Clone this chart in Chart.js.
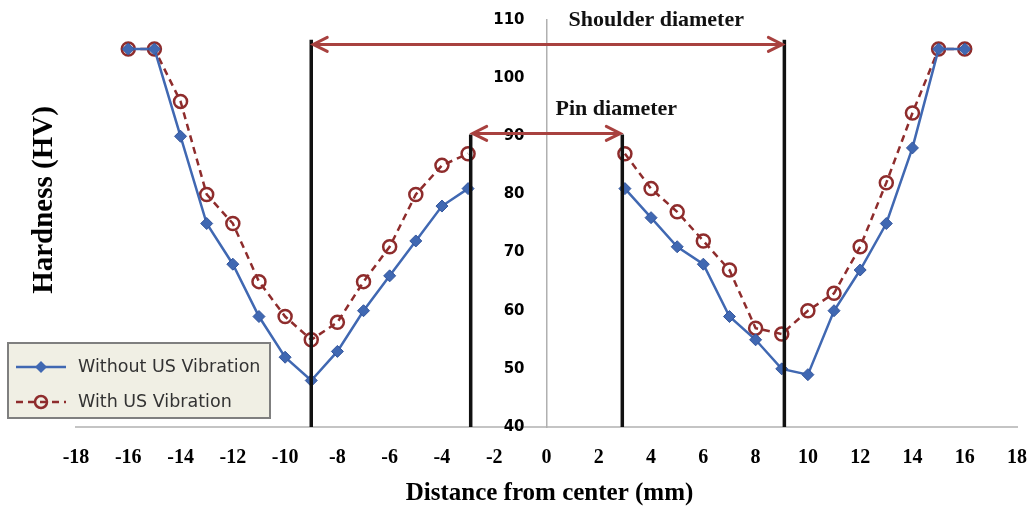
<!DOCTYPE html>
<html>
<head>
<meta charset="utf-8">
<script src="https://cdn.jsdelivr.net/npm/chart.js@4.4.1/dist/chart.umd.min.js"></script>
<style>
  html, body { margin: 0; padding: 0; background: #fff; }
</style>
</head>
<body>
<canvas id="hardnessChart" width="1035" height="513"></canvas>
<script>
// hardness profile across the weld (0 = gap under the pin, no reading)
const distance  = [-16, -15, -14, -13, -12, -11, -10, -9, -8, -7, -6, -5, -4, -3, 0, 3, 4, 5, 6, 7, 8, 9, 10, 11, 12, 13, 14, 15, 16];
const withoutUS = [105, 105, 90, 75, 68, 59, 52, 48, 53, 60, 66, 72, 78, 81, null, 81, 76, 71, 68, 59, 55, 50, 49, 60, 67, 75, 88, 105, 105];
const withUS    = [105, 105, 96, 80, 75, 65, 59, 55, 58, 65, 71, 80, 85, 87, null, 87, 81, 77, 72, 67, 57, 56, 60, 63, 71, 82, 94, 105, 105];

const xTickValues = [-18, -16, -14, -12, -10, -8, -6, -4, -2, 0, 2, 4, 6, 8, 10, 12, 14, 16, 18];
const yTickValues = [40, 50, 60, 70, 80, 90, 100, 110];

// tool zones
const shoulderEdges = [-9, 9.1];
const shoulderTop = 106.6;
const shoulderArrow = 105.8;
const pinEdges = [-2.9, 2.9];
const pinTop = 90.3;
const pinArrow = 90.5;

const BLUE = '#4068b2';
const RED = '#8e2c2c';
const ARROW = '#a8413f';

function points(ys) {
    return distance.map((x, i) => ({ x: x, y: ys[i] }));
}

function edgeLines(edges, top) {
    return edges.map(e => ({
        data: [{ x: e, y: yTickValues[0] }, { x: e, y: top }],
        borderColor: '#111',
        borderWidth: 3.5,
        pointRadius: 0,
        order: -1
    }));
}

const annotations = {
    id: 'annotations',
    afterDatasetsDraw(chart) {
        const ctx = chart.ctx;
        const xs = chart.scales.x, ys = chart.scales.y;
        const area = chart.chartArea;

        function arrow(edges, level) {
            const x1 = xs.getPixelForValue(edges[0]);
            const x2 = xs.getPixelForValue(edges[1]);
            const y = ys.getPixelForValue(level);
            ctx.save();
            ctx.strokeStyle = ARROW;
            ctx.lineWidth = 3;
            ctx.lineCap = 'round';
            ctx.beginPath();
            ctx.moveTo(x1 + 2, y);
            ctx.lineTo(x2 - 2, y);
            ctx.moveTo(x1 + 16, y - 7);
            ctx.lineTo(x1 + 2, y);
            ctx.lineTo(x1 + 16, y + 7);
            ctx.moveTo(x2 - 16, y - 7);
            ctx.lineTo(x2 - 2, y);
            ctx.lineTo(x2 - 16, y + 7);
            ctx.stroke();
            ctx.restore();
        }
        arrow(shoulderEdges, shoulderArrow);
        arrow(pinEdges, pinArrow);

        ctx.save();
        ctx.fillStyle = '#111';
        ctx.font = 'bold 22px "Liberation Serif"';
        ctx.textAlign = 'center';
        ctx.textBaseline = 'middle';
        ctx.fillText('Shoulder diameter', xs.getPixelForValue(4.2), ys.getPixelForValue(110));
        ctx.fillText('Pin diameter', xs.getPixelForValue(2.67), ys.getPixelForValue(94.6));

        // axis titles
        ctx.fillStyle = '#000';
        ctx.font = 'bold 25px "Liberation Serif"';
        ctx.fillText('Distance from center (mm)', (area.left + area.right) / 2 + 3, chart.height - 19);

        // y axis title sits at the far left, not next to the centred axis
        ctx.translate(45, 200);
        ctx.rotate(-Math.PI / 2);
        ctx.font = 'bold 29px "Liberation Serif"';
        ctx.fillText('Hardness (HV)', 0, 0);
        ctx.restore();
    },
    afterDraw(chart) {
        const ctx = chart.ctx;
        ctx.save();
        ctx.fillStyle = '#f0efe4';
        ctx.strokeStyle = '#7f7f7f';
        ctx.lineWidth = 2;
        ctx.fillRect(8, 343, 262, 75);
        ctx.strokeRect(8, 343, 262, 75);

        // entry 1
        ctx.strokeStyle = BLUE;
        ctx.lineWidth = 2.5;
        ctx.beginPath();
        ctx.moveTo(16, 367);
        ctx.lineTo(66, 367);
        ctx.stroke();
        ctx.fillStyle = BLUE;
        ctx.beginPath();
        ctx.moveTo(41, 361); ctx.lineTo(47, 367); ctx.lineTo(41, 373); ctx.lineTo(35, 367);
        ctx.closePath();
        ctx.fill();

        // entry 2
        ctx.strokeStyle = RED;
        ctx.setLineDash([7, 5]);
        ctx.beginPath();
        ctx.moveTo(16, 402);
        ctx.lineTo(66, 402);
        ctx.stroke();
        ctx.setLineDash([]);
        ctx.beginPath();
        ctx.arc(41, 402, 6, 0, Math.PI * 2);
        ctx.stroke();

        ctx.fillStyle = '#333';
        ctx.font = '17.5px "DejaVu Sans"';
        ctx.textBaseline = 'middle';
        ctx.fillText('Without US Vibration', 78, 367);
        ctx.fillText('With US Vibration', 78, 402);
        ctx.restore();
    }
};

const ctx = document.getElementById('hardnessChart').getContext('2d');
new Chart(ctx, {
    type: 'line',
    data: {
        datasets: [
            {
                label: 'Without US Vibration',
                data: points(withoutUS),
                borderColor: BLUE,
                borderWidth: 2.5,
                pointStyle: 'rectRot',
                pointRadius: 6,
                pointBackgroundColor: BLUE,
                pointBorderColor: '#33559c',
                pointBorderWidth: 1,
                spanGaps: false
            },
            {
                label: 'With US Vibration',
                data: points(withUS),
                borderColor: RED,
                borderWidth: 2.5,
                borderDash: [7, 5],
                pointStyle: 'circle',
                pointRadius: 6.5,
                pointBackgroundColor: 'rgba(255,255,255,0)',
                pointBorderColor: RED,
                pointBorderWidth: 2.5,
                spanGaps: false
            },
            ...edgeLines(shoulderEdges, shoulderTop),
            ...edgeLines(pinEdges, pinTop)
        ]
    },
    options: {
        responsive: false,
        animation: false,
        devicePixelRatio: 1,
        events: [],
        layout: { padding: { left: 76, right: 18, top: 20, bottom: 43 } },
        plugins: {
            legend: { display: false },
            tooltip: { enabled: false }
        },
        scales: {
            x: {
                type: 'linear',
                min: -18,
                max: 18,
                afterBuildTicks: axis => { axis.ticks = xTickValues.map(v => ({ value: v })); },
                // invisible tick marks give the gap under the axis
                grid: { display: false, drawTicks: true, tickLength: 19 },
                border: { color: '#c4c4c4', width: 2 },
                ticks: {
                    color: '#000',
                    padding: 0,
                    font: { family: 'Liberation Serif', size: 20, weight: 'bold' }
                }
            },
            // labels sit a little left of the centre line
            y: {
                type: 'linear',
                position: { x: -0.84 },
                min: 40,
                max: 110,
                afterBuildTicks: axis => { axis.ticks = yTickValues.map(v => ({ value: v })); },
                grid: { display: false, drawTicks: false },
                border: { display: false },
                ticks: {
                    color: '#000',
                    font: { family: 'DejaVu Sans', size: 15, weight: 'bold' }
                }
            },
            // the vertical axis line itself, at x = 0
            yLine: {
                type: 'linear',
                axis: 'y',
                position: { x: 0 },
                min: 40,
                max: 110,
                grid: { display: false, drawTicks: false },
                border: { color: '#b0b0b0', width: 1.5 },
                ticks: { display: false }
            }
        }
    },
    plugins: [annotations]
});
</script>
</body>
</html>
